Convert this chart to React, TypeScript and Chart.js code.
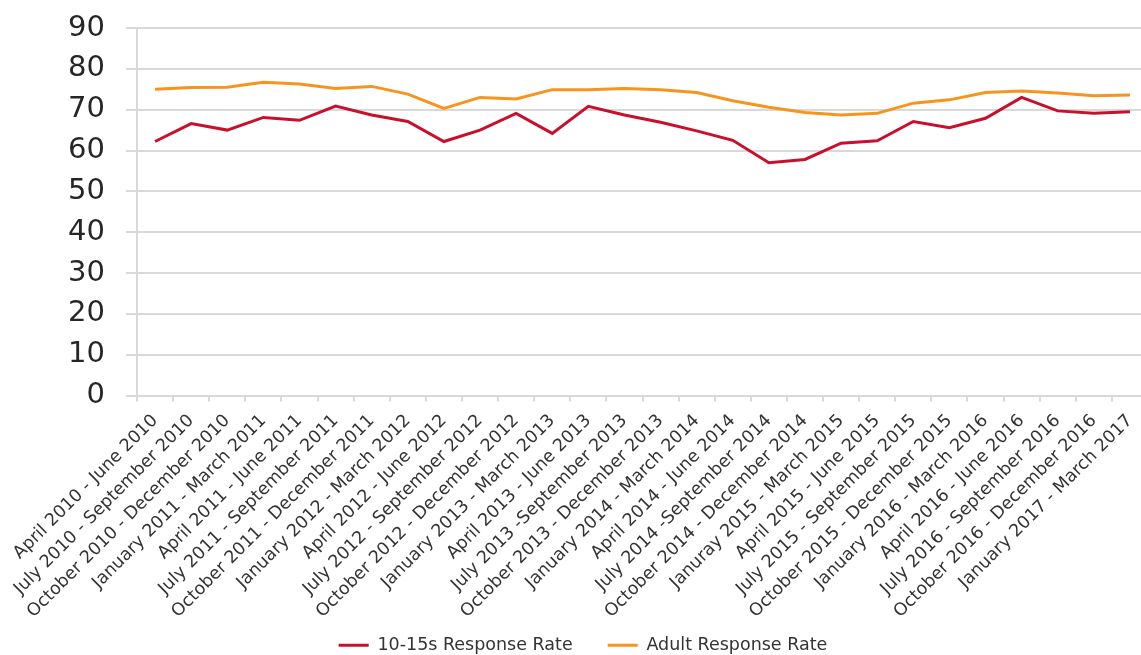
import React, { useEffect, useRef } from "react";
import { Chart, registerables } from "chart.js";

Chart.register(...registerables);

const categories: string[] = [
  "April 2010 - June 2010",
  "July 2010 - September 2010",
  "October 2010 - December 2010",
  "January 2011 - March 2011",
  "April 2011 - June 2011",
  "July 2011 - September 2011",
  "October 2011 - December 2011",
  "January 2012 - March 2012",
  "April 2012 - June 2012",
  "July 2012 - September 2012",
  "October 2012 - December 2012",
  "January 2013 - March 2013",
  "April 2013 - June 2013",
  "July 2013 -September 2013",
  "October 2013 - December 2013",
  "January 2014 - March 2014",
  "April 2014 - June 2014",
  "July 2014 -September 2014",
  "October 2014 - December 2014",
  "Januray 2015 - March 2015",
  "April 2015 - June 2015",
  "July 2015 - September 2015",
  "October 2015 - December 2015",
  "January 2016 - March 2016",
  "April 2016 - June 2016",
  "July 2016 - September 2016",
  "October 2016 - December 2016",
  "January 2017 - March 2017",
];

const youthRate: number[] = [
  62.2, 66.6, 65.0, 68.1, 67.4, 70.9, 68.7, 67.1, 62.2, 65.0, 69.1, 64.2, 70.8, 68.7,
  66.9, 64.8, 62.5, 57.0, 57.8, 61.8, 62.4, 67.1, 65.6, 67.9, 73.0, 69.7, 69.1, 69.5,
];

const adultRate: number[] = [
  75.0, 75.4, 75.5, 76.7, 76.3, 75.2, 75.7, 73.8, 70.3, 73.0, 72.6, 74.9, 74.9, 75.2,
  74.9, 74.2, 72.2, 70.6, 69.3, 68.7, 69.1, 71.6, 72.4, 74.2, 74.6, 74.1, 73.4, 73.6,
];

const yTicks = { min: 0, max: 90, step: 10 };

const RED = "#c8102e";
const ORANGE = "#f7941d";
const GRID = "#d9d9d9";
const FONT = "'DejaVu Sans', Verdana, sans-serif";

const unclipLabels = {
  id: "unclipLabels",
  afterLayout(c: any) {
    if (c.scales.x) c.scales.x.bottom = c.height;
  },
};

export default function App() {
  const ref = useRef<HTMLCanvasElement | null>(null);

  useEffect(() => {
    if (!ref.current) return;
    const chart = new Chart(ref.current, {
      type: "line",
      data: {
        labels: categories,
        datasets: [
          {
            label: "10-15s Response Rate",
            data: youthRate,
            borderColor: RED,
            backgroundColor: RED,
            borderWidth: 3,
            pointRadius: 0,
            tension: 0,
          },
          {
            label: "Adult Response Rate",
            data: adultRate,
            borderColor: ORANGE,
            backgroundColor: ORANGE,
            borderWidth: 3,
            pointRadius: 0,
            tension: 0,
          },
        ],
      },
      plugins: [unclipLabels],
      options: {
        responsive: false,
        animation: false,
        layout: { padding: { top: 28, left: 0, right: 0, bottom: 0 } },
        plugins: {
          tooltip: { enabled: false },
          legend: {
            position: "bottom",
            labels: {
              boxWidth: 30,
              boxHeight: 3,
              padding: 35,
              color: "#333333",
              font: { family: FONT, size: 17.5 },
              generateLabels: (c: any) =>
                Chart.defaults.plugins.legend.labels
                  .generateLabels(c)
                  .map((l: any) => ({ ...l, lineWidth: 0, fillStyle: l.strokeStyle })),
            },
          },
        },
        scales: {
          x: {
            offset: true,
            afterFit: (s: any) => {
              s.height = 206;
              s.paddingLeft = 0;
              s.paddingRight = 18;
            },
            grid: {
              display: true,
              drawOnChartArea: false,
              drawTicks: true,
              tickLength: 6,
              offset: true,
              color: GRID,
              lineWidth: 2,
            },
            border: { display: true, color: GRID, width: 2 },
            ticks: {
              autoSkip: false,
              maxRotation: 45,
              minRotation: 45,
              padding: 9,
              color: "#333333",
              font: { family: FONT, size: 17.5 },
            },
          },
          y: {
            min: yTicks.min,
            max: yTicks.max,
            afterFit: (s: any) => {
              s.width = 137;
              s.paddingTop = 0;
              s.paddingBottom = 0;
            },
            grid: {
              color: GRID,
              lineWidth: 2,
              drawTicks: true,
              tickLength: 11,
            },
            border: { display: true, color: GRID, width: 2 },
            ticks: {
              stepSize: yTicks.step,
              padding: 21,
              color: "#262626",
              font: { family: FONT, size: 29 },
            },
          },
        },
      },
    });
    return () => chart.destroy();
  }, []);

  return (
    <div
      style={{
        position: "absolute",
        left: 0,
        top: 0,
        width: 1141,
        height: 655,
        overflow: "hidden",
        background: "#ffffff",
      }}
    >
      <canvas ref={ref} width={1166} height={664} style={{ width: 1166, height: 664, display: "block" }} />
    </div>
  );
}
